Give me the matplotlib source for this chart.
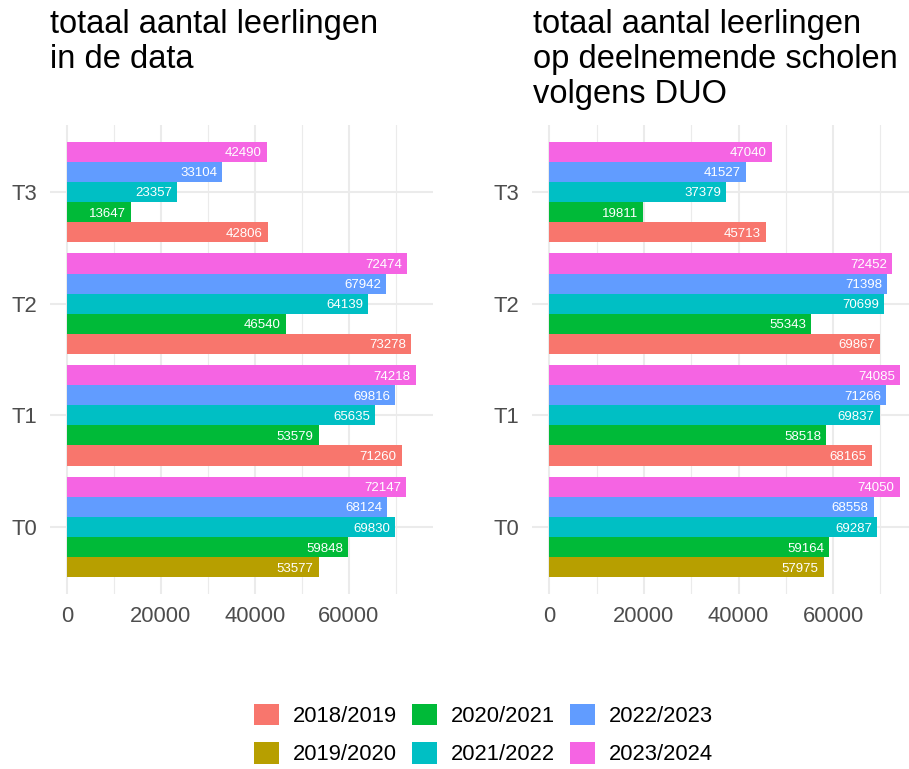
import numpy as np
import matplotlib.pyplot as plt
from matplotlib.patches import Patch

plt.rcParams['font.family'] = ['Liberation Sans', 'DejaVu Sans']

seasons = ["2018/2019", "2019/2020", "2020/2021", "2021/2022", "2022/2023", "2023/2024"]
colors = ["#F8766D", "#B79F00", "#00BA38", "#00BFC4", "#619CFF", "#F564E3"]
periods = ["T0", "T1", "T2", "T3"]

# left panel: totaal aantal leerlingen in de data (per season, T0..T3)
data_1819 = [np.nan, 71260, 73278, 42806]
data_1920 = [53577, np.nan, np.nan, np.nan]
data_2021 = [59848, 53579, 46540, 13647]
data_2122 = [69830, 65635, 64139, 23357]
data_2223 = [68124, 69816, 67942, 33104]
data_2324 = [72147, 74218, 72474, 42490]

# right panel: totaal volgens DUO
duo_1819 = [np.nan, 68165, 69867, 45713]
duo_1920 = [57975, np.nan, np.nan, np.nan]
duo_2021 = [59164, 58518, 55343, 19811]
duo_2122 = [69287, 69837, 70699, 37379]
duo_2223 = [68558, 71266, 71398, 41527]
duo_2324 = [74050, 74085, 72452, 47040]

left_series = [data_1819, data_1920, data_2021, data_2122, data_2223, data_2324]
right_series = [duo_1819, duo_1920, duo_2021, duo_2122, duo_2223, duo_2324]

title_left = "totaal aantal leerlingen\nin de data"
title_right = "totaal aantal leerlingen\nop deelnemende scholen\nvolgens DUO"

W, H = 909, 769
fig = plt.figure(figsize=(W / 100, H / 100), dpi=100)


def draw_panel(ax, series):
    bar_h = 0.9 / 5
    vmax = np.nanmax(np.array(series))
    for j in range(len(periods)):
        # dodge: only the seasons that have a value get a slot
        present = [k for k in range(len(seasons)) if not np.isnan(series[k][j])]
        n = len(present)
        for i, k in enumerate(present):
            y = j + (i - (n - 1) / 2) * bar_h
            v = series[k][j]
            ax.barh(y, v, height=bar_h, color=colors[k], zorder=2)
            ax.annotate(str(int(v)), xy=(v, y), xytext=(-3.6, 0),
                        textcoords='offset points', ha='right',
                        va='center_baseline', color='white', fontsize=9.5,
                        zorder=3)
    ax.set_xlim(-0.05 * vmax, 1.05 * vmax)
    ax.set_ylim(-0.6, len(periods) - 0.4)
    ax.set_yticks(range(len(periods)))
    ax.set_yticklabels(periods)
    ax.set_xticks([0, 20000, 40000, 60000])
    ax.set_xticks([10000, 30000, 50000, 70000], minor=True)
    ax.grid(which='major', color='#EBEBEB', linewidth=1.5, zorder=0)
    ax.grid(which='minor', axis='x', color='#EBEBEB', linewidth=0.8, zorder=0)
    ax.set_axisbelow(True)
    for s in ax.spines.values():
        s.set_visible(False)
    ax.tick_params(which='both', length=0, labelsize=15.8, labelcolor='#4D4D4D')
    ax.tick_params(axis='y', pad=9)
    ax.tick_params(axis='x', pad=9)


bottom = 1 - 594 / H
height = 469 / H
ax1 = fig.add_axes([49.6 / W, bottom, (433 - 49.6) / W, height])
ax2 = fig.add_axes([531.8 / W, bottom, (917.3 - 531.8) / W, height])
draw_panel(ax1, left_series)
draw_panel(ax2, right_series)

fig.text(50 / W, 1 - 9.2 / H, title_left, ha='left', va='top', fontsize=23.5,
         linespacing=1.16)
fig.text(533 / W, 1 - 9.2 / H, title_right, ha='left', va='top', fontsize=23.5,
         linespacing=1.16)

handles = [Patch(facecolor=c, edgecolor='none') for c in colors]
fig.legend(handles, seasons, ncol=3, loc='center',
           bbox_to_anchor=(483.5 / W, 1 - 734.5 / H), frameon=False,
           fontsize=15.8, handlelength=1.14, handleheight=1.14,
           handletextpad=0.64, columnspacing=0.68, labelspacing=0.68,
           borderpad=0)

fig.savefig("out.png", dpi=100)
